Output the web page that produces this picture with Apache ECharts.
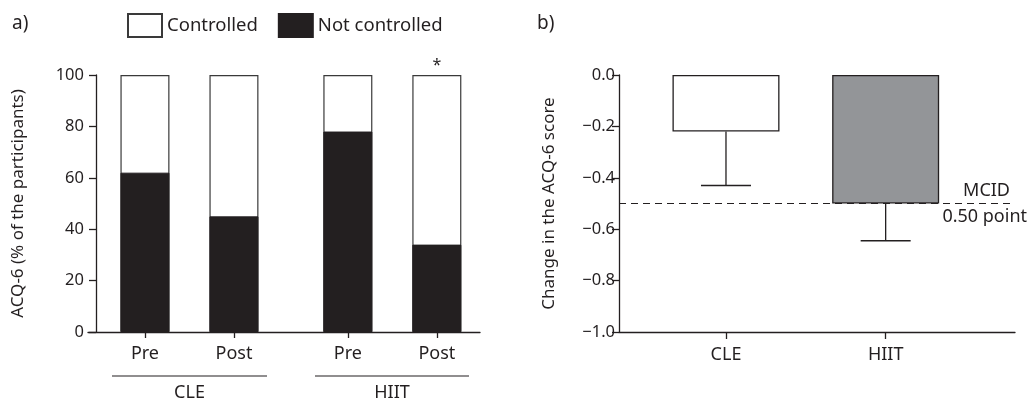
<!DOCTYPE html>
<html>
<head>
<meta charset="utf-8">
<script src="https://cdn.jsdelivr.net/npm/echarts@6/dist/echarts.min.js"></script>
<style>html,body{margin:0;background:#fff}#main{width:1029px;height:403px}</style>
</head>
<body>
<div id="main"></div>
<script>
var ink = '#231f20';
var font = 'Noto Sans';

// a) ACQ-6 control status (% of participants)
var timeLabels = ['Pre', 'Post', 'Pre', 'Post'];
var timePos = [0.55, 1.55, 2.83, 3.83];
var notControlled = [62, 45, 78, 34];
var controlled = [38, 55, 22, 66];
var groupNames = ['CLE', 'HIIT'];

// b) change in ACQ-6 score
var groupPos = [0.67, 1.67];
var changeMean = [-0.22, -0.5];
var changeSd = [0.21, 0.145];
var mcid = -0.5;

var myChart = echarts.init(document.getElementById('main'));

var tickTxt = { color: ink, fontFamily: font, fontSize: 16.5 };
var catTxt = { color: ink, fontFamily: font, fontSize: 18 };
var nameTxt = { color: ink, fontFamily: font, fontSize: 17 };
var axisLine = { show: true, lineStyle: { color: ink, width: 1.3 } };

myChart.setOption({
    animation: false,
    textStyle: { fontFamily: font, color: ink },
    title: [
        { text: 'a)', left: 12, top: 14, padding: 0, textStyle: { color: ink, fontFamily: font, fontSize: 19, fontWeight: 'normal' } },
        { text: 'b)', left: 537, top: 14, padding: 0, textStyle: { color: ink, fontFamily: font, fontSize: 19, fontWeight: 'normal' } }
    ],
    legend: {
        data: ['Controlled', 'Not controlled'],
        left: 127, top: 13, padding: 0,
        icon: 'rect',
        itemWidth: 34, itemHeight: 23, itemGap: 20,
        textStyle: { color: ink, fontFamily: font, fontSize: 18.5 }
    },
    grid: [
        { left: 88, top: 75, width: 392, height: 257 },
        { left: 619, top: 75, width: 396, height: 257 }
    ],
    xAxis: [{
        gridIndex: 0, type: 'value', min: -0.09, max: 4.315,
        splitLine: { show: false },
        axisLine: { show: true, onZero: false, lineStyle: { color: ink, width: 1.3 } },
        axisTick: { show: true, length: 6, customValues: timePos, lineStyle: { color: ink, width: 1.3 } },
        axisLabel: Object.assign({ customValues: timePos, margin: 13,
            formatter: function (v) { return timeLabels[timePos.indexOf(v)]; } }, catTxt)
    }, {
        gridIndex: 1, type: 'value', min: 0, max: 2.48,
        splitLine: { show: false },
        axisLine: { show: true, onZero: false, lineStyle: { color: ink, width: 1.3 } },
        axisTick: { show: true, length: 7, customValues: groupPos, lineStyle: { color: ink, width: 1.3 } },
        axisLabel: Object.assign({ customValues: groupPos, margin: 14,
            formatter: function (v) { return groupNames[groupPos.indexOf(v)]; } }, catTxt)
    }],
    yAxis: [{
        gridIndex: 0, type: 'value', min: 0, max: 100, interval: 20,
        name: 'ACQ-6 (% of the participants)', nameLocation: 'middle', nameGap: 61,
        nameTextStyle: nameTxt,
        splitLine: { show: false },
        axisLine: { show: true, onZero: true, lineStyle: { color: ink, width: 1.3 } },
        axisTick: { show: true, length: 7, lineStyle: { color: ink, width: 1.3 } },
        axisLabel: Object.assign({ margin: 4 }, tickTxt)
    }, {
        gridIndex: 1, type: 'value', min: -1, max: 0, interval: 0.2,
        name: 'Change in the ACQ-6 score', nameLocation: 'middle', nameGap: 61,
        nameTextStyle: nameTxt,
        splitLine: { show: false },
        axisLine: axisLine,
        axisTick: { show: true, length: 7, lineStyle: { color: ink, width: 1.3 } },
        axisLabel: Object.assign({ margin: 4,
            formatter: function (v) { return (v < 0 ? '\u2212' : '') + Math.abs(v).toFixed(1); } }, tickTxt)
    }],
    series: [{
        // white part drawn full height (controlled sits on top of not controlled)
        name: 'Controlled', type: 'bar',
        xAxisIndex: 0, yAxisIndex: 0, barWidth: 49, barGap: '-100%',
        itemStyle: { color: '#fff', borderColor: '#3a3a3a', borderWidth: 1.2 },
        data: timePos.map(function (x, i) {
            var d = { value: [x, notControlled[i] + controlled[i]] };
            if (i === 3) d.label = { show: true, position: 'top', distance: 2, formatter: '*', color: ink, fontSize: 16 };
            return d;
        })
    }, {
        name: 'Not controlled', type: 'bar',
        xAxisIndex: 0, yAxisIndex: 0, barWidth: 49, barGap: '-100%', z: 3,
        itemStyle: { color: ink, borderColor: ink, borderWidth: 1 },
        data: timePos.map(function (x, i) { return [x, notControlled[i]]; })
    }, {
        name: 'Change', type: 'bar',
        xAxisIndex: 1, yAxisIndex: 1, barWidth: 107,
        data: groupPos.map(function (x, i) {
            return { value: [x, changeMean[i]],
                itemStyle: { color: i === 0 ? '#fff' : '#939598', borderColor: ink, borderWidth: 1.3 } };
        }),
        markLine: {
            silent: true, symbol: 'none',
            lineStyle: { color: ink, type: [7, 5], width: 1.2 },
            label: { color: ink, fontFamily: font, fontSize: 18 },
            data: [
                { yAxis: mcid, label: { formatter: 'MCID', position: 'insideEndTop', distance: [5, 4] } },
                { yAxis: mcid, lineStyle: { color: 'rgba(0,0,0,0)' },
                  label: { formatter: '0.50 point', position: 'insideEndBottom', distance: [-12, 4] } }
            ]
        }
    }, {
        name: 'SD', type: 'custom',
        xAxisIndex: 1, yAxisIndex: 1, z: 3,
        renderItem: function (params, api) {
            var top = api.coord([api.value(0), api.value(1)]);
            var low = api.coord([api.value(0), api.value(2)]);
            var st = { stroke: ink, lineWidth: 1.3 };
            return { type: 'group', children: [
                { type: 'line', shape: { x1: top[0], y1: top[1], x2: low[0], y2: low[1] }, style: st },
                { type: 'line', shape: { x1: low[0] - 25, y1: low[1], x2: low[0] + 25, y2: low[1] }, style: st }
            ] };
        },
        data: groupPos.map(function (x, i) { return [x, changeMean[i], changeMean[i] - changeSd[i]]; })
    }],
    graphic: [
        { type: 'line', shape: { x1: 112, y1: 376, x2: 267, y2: 376 }, style: { stroke: ink, lineWidth: 1.2 } },
        { type: 'line', shape: { x1: 315, y1: 376, x2: 469, y2: 376 }, style: { stroke: ink, lineWidth: 1.2 } },
        { type: 'text', x: 189.5, y: 393, style: { text: groupNames[0], fill: ink, font: '18px "Noto Sans"', align: 'center', verticalAlign: 'middle' } },
        { type: 'text', x: 392, y: 393, style: { text: groupNames[1], fill: ink, font: '18px "Noto Sans"', align: 'center', verticalAlign: 'middle' } }
    ]
});
</script>
</body>
</html>
